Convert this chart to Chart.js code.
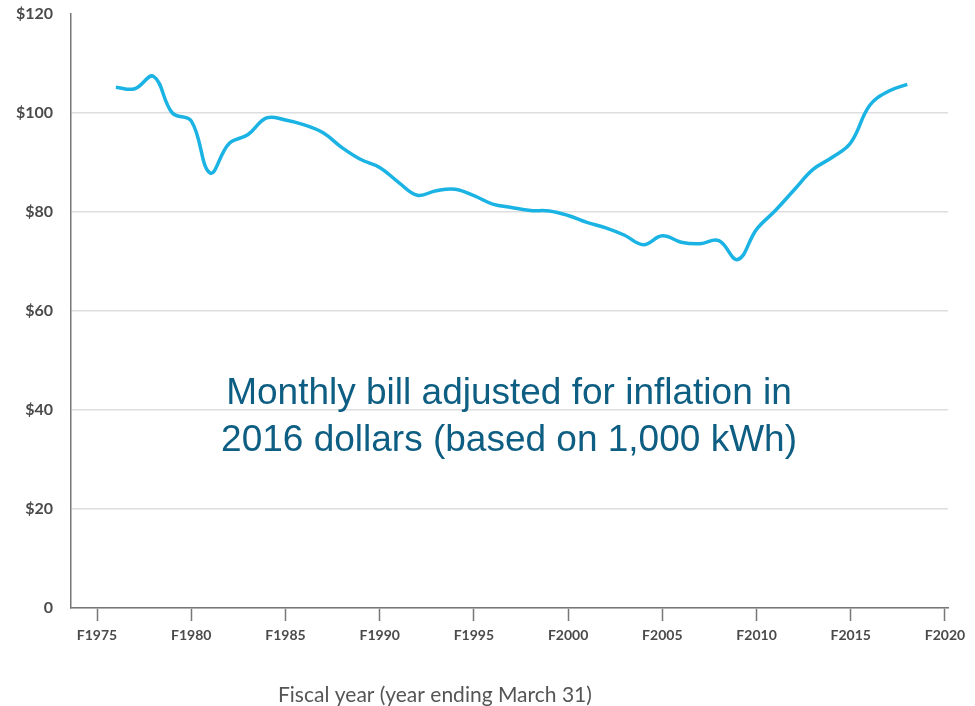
<!DOCTYPE html>
<html>
<head>
<meta charset="utf-8">
<script src="https://cdn.jsdelivr.net/npm/chart.js@4/dist/chart.umd.min.js"></script>
<style>
  html, body { margin: 0; padding: 0; background: #fff; }
  #wrap { width: 975px; height: 706px; position: relative; }
</style>
</head>
<body>
<div id="wrap"><canvas id="chart"></canvas></div>
<script>
// fiscal years and real monthly bill (2016 dollars, 1,000 kWh)
const years = [1976, 1977, 1978, 1979, 1980, 1981, 1982, 1983, 1984, 1985,
    1986, 1987, 1988, 1989, 1990, 1991, 1992, 1993, 1994, 1995,
    1996, 1997, 1998, 1999, 2000, 2001, 2002, 2003, 2004, 2005,
    2006, 2007, 2008, 2009, 2010, 2011, 2012, 2013, 2014, 2015,
    2016, 2017, 2018];
const billValues = [105.2, 104.9, 107.4, 100.0, 98.4, 87.9, 93.8, 95.6, 99.0, 98.6,
    97.6, 96.0, 93.0, 90.6, 89.0, 86.0, 83.4, 84.3, 84.6, 83.3,
    81.6, 80.9, 80.3, 80.2, 79.3, 77.9, 76.8, 75.3, 73.4, 75.2,
    73.9, 73.6, 74.2, 70.4, 76.5, 80.3, 84.5, 88.6, 91.0, 94.0,
    101.5, 104.4, 105.8];
const xTickYears = [1975, 1980, 1985, 1990, 1995, 2000, 2005, 2010, 2015, 2020];
const yTickValues = [0, 20, 40, 60, 80, 100, 120];
const yTickLabels = ['0', '$20', '$40', '$60', '$80', '$100', '$120'];
const noteLines = ['Monthly bill adjusted for inflation in', '2016 dollars (based on 1,000 kWh)'];
const xTitle = 'Fiscal year (year ending March 31)';

const points = years.map((y, i) => ({ x: y, y: billValues[i] }));

// draws the note in the middle and the axis title under the ticks
const textPlugin = {
    id: 'textPlugin',
    afterDraw(chart) {
        const c = chart.ctx;
        c.save();
        c.fillStyle = '#0d5e82';
        c.font = '37px "Liberation Sans", Arial, sans-serif';
        c.textAlign = 'center';
        c.textBaseline = 'alphabetic';
        c.fillText(noteLines[0], 509, 404);
        c.fillText(noteLines[1], 509, 451);

        c.fillStyle = '#555';
        c.font = '21px Lato, "Open Sans", sans-serif';
        c.textAlign = 'left';
        c.fillText(xTitle, 278, 702);
        c.restore();
    }
};

const ctx = document.getElementById('chart').getContext('2d');
const chart = new Chart(ctx, {
    type: 'line',
    data: {
        datasets: [{
            label: 'Monthly bill',
            data: points,
            borderColor: '#1ab3e3',
            borderWidth: 3.5,
            pointRadius: 0,
            tension: 0.4,
            fill: false
        }]
    },
    options: {
        responsive: true,
        maintainAspectRatio: false,
        animation: false,
        layout: { padding: { top: 14, right: 27, bottom: 0, left: 0 } },
        plugins: {
            legend: { display: false },
            tooltip: { enabled: false }
        },
        scales: {
            x: {
                type: 'linear',
                min: 1973.62,
                max: 2020.16,
                afterBuildTicks: (scale) => {
                    scale.ticks = xTickYears.map(v => ({ value: v }));
                },
                afterFit: (scale) => {
                    scale.height = 98;
                    scale.paddingLeft = 0;
                    scale.paddingRight = 0;
                },
                grid: {
                    drawOnChartArea: false,
                    drawTicks: true,
                    tickLength: 13,
                    tickWidth: 1.5,
                    tickColor: '#777'
                },
                border: { color: '#777', width: 1.5 },
                ticks: {
                    padding: 6,
                    maxRotation: 0,
                    autoSkip: false,
                    color: '#4a4a4a',
                    font: { family: 'Lato', size: 14, weight: 'bold' },
                    callback: (v) => 'F' + v
                }
            },
            y: {
                min: 0,
                max: 120,
                afterBuildTicks: (scale) => {
                    scale.ticks = yTickValues.map(v => ({ value: v }));
                },
                afterFit: (scale) => {
                    scale.width = 71;
                    scale.paddingTop = 0;
                    scale.paddingBottom = 0;
                },
                grid: {
                    drawTicks: false,
                    lineWidth: 1.5,
                    color: (c) => (c.tick && c.tick.value === 120) ? 'rgba(0,0,0,0)' : '#dedede'
                },
                border: { color: '#777', width: 1.5 },
                ticks: {
                    padding: 18,
                    color: '#4a4a4a',
                    font: { family: 'Lato', size: 16, weight: 'bold' },
                    callback: (v) => yTickLabels[yTickValues.indexOf(v)]
                }
            }
        }
    },
    plugins: [textPlugin]
});
</script>
</body>
</html>
